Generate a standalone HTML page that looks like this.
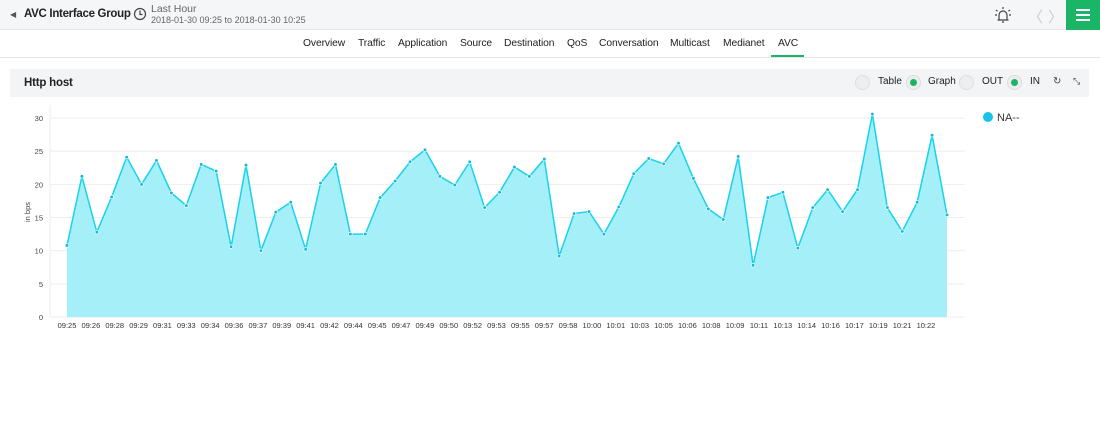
<!DOCTYPE html>
<html><head><meta charset="utf-8"><style>
*{margin:0;padding:0;box-sizing:border-box}
body{width:1100px;height:433px;background:#fff;font-family:"Liberation Sans",sans-serif;position:relative;overflow:hidden}
.hdr{position:absolute;left:0;top:0;width:1100px;height:30px;background:#f5f6f7;border-bottom:1px solid #e4e6e8}
.t{position:absolute;white-space:nowrap}
.tabs{position:absolute;top:38px;font-size:10.3px;color:#222;letter-spacing:-0.1px}
.panel{position:absolute;left:10px;top:69px;width:1079px;height:28px;background:#f3f4f5}
.rad{position:absolute;width:15px;height:15px;border-radius:50%;background:#eee;border:1px solid #ddd}
.rad.on::after{content:"";position:absolute;left:3px;top:3px;width:7px;height:7px;border-radius:50%;background:#1ab566}
</style></head><body>
<div class="hdr"></div>
<div class="t" style="left:10px;top:10px;font-size:8px;color:#555">◀</div>
<div class="t" style="left:24px;top:8px;font-size:11.5px;font-weight:bold;color:#222;letter-spacing:-0.3px">AVC Interface Group</div>
<svg style="position:absolute;left:133px;top:7px" width="14" height="14"><circle cx="7" cy="7" r="5.5" fill="none" stroke="#444" stroke-width="1.2"/><path d="M7 3.5V7.5H9.5" fill="none" stroke="#444" stroke-width="1.2"/></svg>
<div class="t" style="left:151px;top:3px;font-size:10.5px;color:#666">Last Hour</div>
<div class="t" style="left:151px;top:15px;font-size:9px;color:#666">2018-01-30 09:25 to 2018-01-30 10:25</div>
<svg style="position:absolute;left:993px;top:5px" width="20" height="20"><path d="M6 15V10a4 4 0 0 1 8 0v5zM4.5 15h11M9 17h2" fill="none" stroke="#444" stroke-width="1.2"/><path d="M10 2v2M3 5l1.5 1.2M17 5l-1.5 1.2M2 10h2M16 10h2" stroke="#444" stroke-width="1.2"/></svg>
<div class="t" style="left:1028px;top:6px;font-size:15px;color:#ccc">〈</div>
<div class="t" style="left:1048px;top:6px;font-size:15px;color:#ccc">〉</div>
<div style="position:absolute;left:1066px;top:0;width:34px;height:30px;background:#1ab566"></div>
<div style="position:absolute;left:1076px;top:9px;width:14px;height:2px;background:#fff;box-shadow:0 5px 0 #fff,0 10px 0 #fff"></div>
<div class="tabs" style="left:303px">Overview</div>
<div class="tabs" style="left:358px">Traffic</div>
<div class="tabs" style="left:398px">Application</div>
<div class="tabs" style="left:460px">Source</div>
<div class="tabs" style="left:504px">Destination</div>
<div class="tabs" style="left:567px">QoS</div>
<div class="tabs" style="left:599px">Conversation</div>
<div class="tabs" style="left:670px">Multicast</div>
<div class="tabs" style="left:723px">Medianet</div>
<div class="tabs" style="left:778px">AVC</div>
<div style="position:absolute;left:771px;top:55px;width:33px;height:2px;background:#1ab566"></div>
<div style="position:absolute;left:0;top:57px;width:1100px;height:1px;background:#e4e6e8"></div>
<div class="panel"></div>
<div class="t" style="left:24px;top:77px;font-size:11.5px;font-weight:bold;color:#222;letter-spacing:-0.2px">Http host</div>
<div class="rad" style="left:855px;top:75px"></div>
<div class="t" style="left:878px;top:76px;font-size:10px;color:#222">Table</div>
<div class="rad on" style="left:906px;top:75px"></div>
<div class="t" style="left:928px;top:76px;font-size:10px;color:#222">Graph</div>
<div class="rad" style="left:959px;top:75px"></div>
<div class="t" style="left:982px;top:76px;font-size:10px;color:#222">OUT</div>
<div class="rad on" style="left:1007px;top:75px"></div>
<div class="t" style="left:1030px;top:76px;font-size:10px;color:#222">IN</div>
<div class="t" style="left:1053px;top:76px;font-size:10px;color:#444">↻</div>
<div class="t" style="left:1073px;top:76px;font-size:9px;color:#444">⤡</div>
<svg id="c" style="position:absolute;left:0;top:0" width="1100" height="433"></svg>
<script>
var v=[10.8,21.2,12.8,18.1,24.1,20.0,23.6,18.7,16.8,23.0,22.0,10.6,22.9,10.0,15.8,17.3,10.2,20.2,23.0,12.5,12.5,18.0,20.5,23.4,25.2,21.2,19.9,23.4,16.5,18.8,22.6,21.2,23.8,9.2,15.6,15.9,12.5,16.6,21.6,23.9,23.1,26.2,20.9,16.3,14.7,24.2,7.8,18.0,18.8,10.4,16.5,19.2,15.9,19.2,30.6,16.5,12.9,17.3,27.4,15.4];
var L="09:25 09:26 09:28 09:29 09:31 09:33 09:34 09:36 09:37 09:39 09:41 09:42 09:44 09:45 09:47 09:49 09:50 09:52 09:53 09:55 09:57 09:58 10:00 10:01 10:03 10:05 10:06 10:08 10:09 10:11 10:13 10:14 10:16 10:17 10:19 10:21 10:22".split(" ");
function X(i){return 67+i*(880/59)}function Y(a){return 317-a*6.633}
var s='';
for(var k=0;k<=6;k++){var y=Y(k*5);s+='<line x1="50" x2="965" y1="'+y+'" y2="'+y+'" stroke="#eee"/><text x="43" y="'+(y+3)+'" font-size="7.5" fill="#444" text-anchor="end">'+k*5+'</text>';}
s+='<line x1="50" x2="50" y1="105" y2="317" stroke="#eee"/>';
s+='<text transform="translate(30,212) rotate(-90)" font-size="7.5" fill="#444" text-anchor="middle">in bps</text>';
var p='';for(var i=0;i<v.length;i++)p+=X(i).toFixed(1)+','+Y(v[i]).toFixed(1)+' ';
s+='<polygon points="67,317 '+p+X(59)+',317" fill="#a4eff8"/>';
s+='<polyline points="'+p+'" fill="none" stroke="#17d3ec" stroke-width="1.5"/>';
for(i=0;i<v.length;i++)s+='<circle cx="'+X(i)+'" cy="'+Y(v[i])+'" r="1.8" fill="#17b5d6" stroke="#fff" stroke-width="0.7"/>';
for(i=0;i<L.length;i++)s+='<text x="'+(67+i*23.86)+'" y="328" font-size="7.5" fill="#333" text-anchor="middle">'+L[i]+'</text>';
s+='<circle cx="988" cy="117" r="5" fill="#17c3e6"/><text x="997" y="121" font-size="11" fill="#333">NA--</text>';
document.getElementById('c').innerHTML=s;
</script>
</body></html>
